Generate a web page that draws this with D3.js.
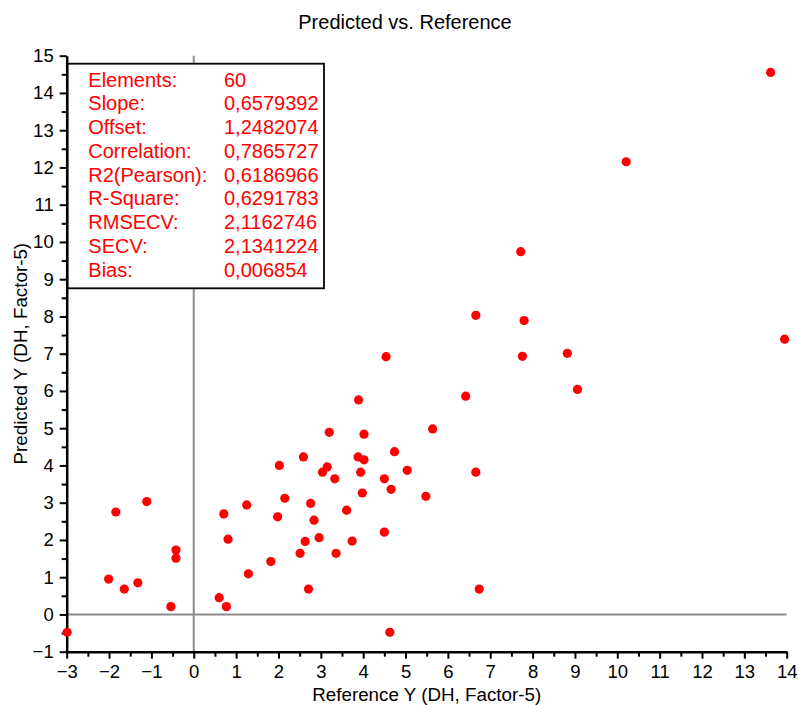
<!DOCTYPE html>
<html>
<head>
<meta charset="utf-8">
<script src="https://cdn.jsdelivr.net/npm/d3@7"></script>
<style>
  body { margin: 0; background: #fff; }
  text { font-family: "Liberation Sans", Arial, sans-serif; }
</style>
</head>
<body>
<script>
var width = 798;
var height = 705;

// reference (x) and predicted (y) values
var refY = [-2.99, -2.01, -1.84, -1.64, -1.32, -1.11, -0.54, -0.42, -0.42, 0.60,
            0.77, 0.71, 0.81, 1.25, 1.29, 1.82, 1.98, 2.02, 2.15, 2.51,
            2.63, 2.71, 2.76, 2.84, 2.96, 3.04, 3.15, 3.33, 3.36, 4.54,
            7.76, 3.89, 6.42, 3.20, 4.02, 5.64, 2.59, 4.74, 3.88, 4.02,
            3.94, 5.04, 6.66, 4.50, 4.66, 3.98, 5.48, 3.61, 4.50, 3.74,
            6.74, 4.63, 13.62, 10.21, 7.72, 6.66, 7.80, 13.95, 8.82, 9.06];
var predY = [-0.48, 0.95, 2.75, 0.68, 0.85, 3.03, 0.21, 1.73, 1.51, 0.45,
             0.21, 2.70, 2.02, 2.94, 1.09, 1.42, 2.62, 4.00, 3.12, 1.64,
             1.96, 0.68, 2.98, 2.53, 2.06, 3.82, 3.96, 3.64, 1.64, 6.92,
             6.93, 5.76, 5.86, 4.89, 4.84, 4.98, 4.23, 4.37, 4.23, 4.15,
             3.82, 3.87, 3.82, 3.64, 3.36, 3.26, 3.17, 2.80, 2.21, 1.97,
             0.68, -0.48, 14.55, 12.15, 9.74, 8.03, 7.89, 7.39, 7.01, 6.04];

var statNames = ["Elements:", "Slope:", "Offset:", "Correlation:", "R2(Pearson):",
                 "R-Square:", "RMSECV:", "SECV:", "Bias:"];
var statValues = ["60", "0,6579392", "1,2482074", "0,7865727", "0,6186966",
                  "0,6291783", "2,1162746", "2,1341224", "0,006854"];

var xTicks = d3.range(-3, 15, 1);
var yTicks = d3.range(-1, 16, 1);
var xMinor = d3.range(-2.5, 14, 1);
var yMinor = d3.range(-0.5, 15, 1);

var x = d3.scaleLinear().domain([-3, 14]).range([66.7, 786.7]);
var y = d3.scaleLinear().domain([-1, 15]).range([651.7, 55.7]);

var svg = d3.select("body").append("svg")
    .attr("width", width)
    .attr("height", height);

svg.append("rect")
    .attr("width", width)
    .attr("height", height)
    .attr("fill", "#fff");

// zero lines
svg.append("line")
    .attr("x1", x(0)).attr("x2", x(0))
    .attr("y1", y(15)).attr("y2", y(-1))
    .style("stroke", "#8c8c8c").style("stroke-width", 2);
svg.append("line")
    .attr("x1", x(-3)).attr("x2", x(14))
    .attr("y1", y(0)).attr("y2", y(0))
    .style("stroke", "#8c8c8c").style("stroke-width", 2);

// minor ticks
svg.append("g")
    .attr("transform", "translate(0," + y(-1) + ")")
    .call(d3.axisBottom(x).tickValues(xMinor).tickSize(5).tickFormat("").tickSizeOuter(0))
    .call(function(g) { g.select(".domain").remove(); })
    .selectAll("line").style("stroke", "#000").style("stroke-width", 2);
svg.append("g")
    .attr("transform", "translate(" + x(-3) + ",0)")
    .call(d3.axisLeft(y).tickValues(yMinor).tickSize(5).tickFormat("").tickSizeOuter(0))
    .call(function(g) { g.select(".domain").remove(); })
    .selectAll("line").style("stroke", "#000").style("stroke-width", 2);

// major axes
var xAxis = svg.append("g")
    .attr("transform", "translate(0," + y(-1) + ")")
    .call(d3.axisBottom(x).tickValues(xTicks).tickSize(7).tickSizeOuter(0).tickPadding(6));
var yAxis = svg.append("g")
    .attr("transform", "translate(" + x(-3) + ",0)")
    .call(d3.axisLeft(y).tickValues(yTicks).tickSize(7).tickSizeOuter(0).tickPadding(6));

[xAxis, yAxis].forEach(function(g) {
    g.select(".domain").style("stroke", "#000").style("stroke-width", 2.5);
    g.selectAll(".tick line").style("stroke", "#000").style("stroke-width", 2);
    g.selectAll(".tick text")
        .style("font-size", "18.5px")
        .style("font-family", '"Liberation Sans", Arial, sans-serif')
        .style("fill", "#000");
});

// points
svg.append("g")
    .selectAll("circle")
    .data(refY.map(function(d, i) { return [d, predY[i]]; }))
    .enter().append("circle")
    .attr("cx", function(d) { return x(d[0]); })
    .attr("cy", function(d) { return y(d[1]); })
    .attr("r", 4.6)
    .style("fill", "#ff0000");

// stats box
var box = svg.append("g");
box.append("rect")
    .attr("x", 67.7).attr("y", 63.7)
    .attr("width", 256.3).attr("height", 224.6)
    .style("fill", "#fff")
    .style("stroke", "#000")
    .style("stroke-width", 1.8);

box.selectAll("text.name")
    .data(statNames)
    .enter().append("text")
    .attr("class", "name")
    .attr("x", 88.3)
    .attr("y", function(d, i) { return 86.7 + i * 23.75; })
    .style("font-size", "20px")
    .style("fill", "#ff0000")
    .text(function(d) { return d; });

box.selectAll("text.val")
    .data(statValues)
    .enter().append("text")
    .attr("class", "val")
    .attr("x", 224)
    .attr("y", function(d, i) { return 86.7 + i * 23.75; })
    .style("font-size", "20px")
    .style("fill", "#ff0000")
    .text(function(d) { return d; });

// titles
svg.append("text")
    .attr("x", 405)
    .attr("y", 28.5)
    .attr("text-anchor", "middle")
    .style("font-size", "20px")
    .style("fill", "#000")
    .text("Predicted vs. Reference");

svg.append("text")
    .attr("x", (x(-3) + x(14)) / 2)
    .attr("y", 701)
    .attr("text-anchor", "middle")
    .style("font-size", "18.8px")
    .style("fill", "#000")
    .text("Reference Y (DH, Factor-5)");

svg.append("text")
    .attr("transform", "translate(27," + (y(-1) + y(15)) / 2 + ") rotate(-90)")
    .attr("text-anchor", "middle")
    .style("font-size", "18.8px")
    .style("fill", "#000")
    .text("Predicted Y (DH, Factor-5)");
</script>
</body>
</html>
